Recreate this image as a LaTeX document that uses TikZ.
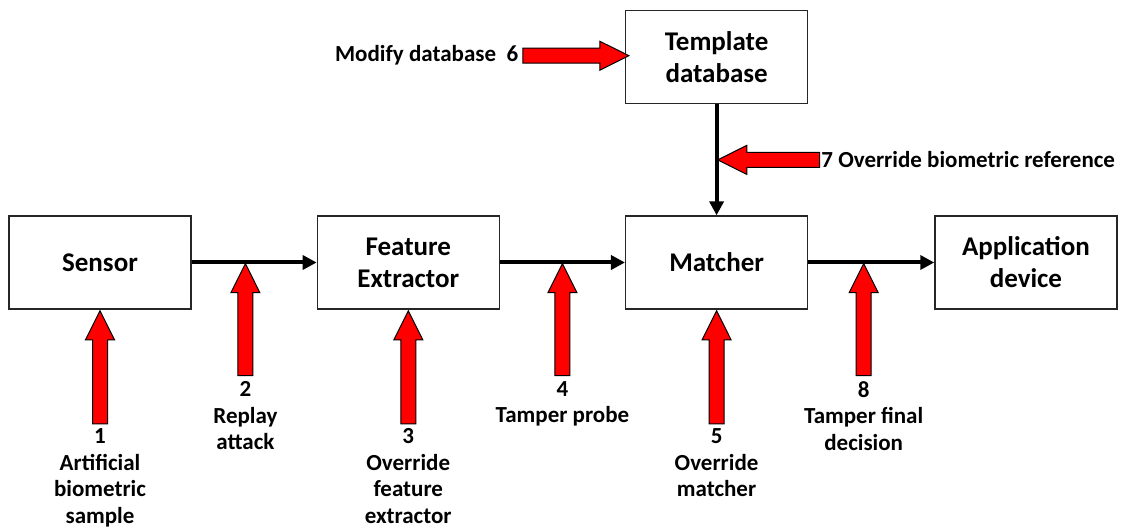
\documentclass[tikz,border=0pt]{standalone}
\usepackage{fontspec}
\setmainfont{Carlito}
\usetikzlibrary{calc, positioning, arrows.meta, shapes.arrows}

\begin{document}
\begin{tikzpicture}[x=1pt, y=-1pt, inner sep=2pt, node distance=125pt,
	block/.style={rectangle, draw=black!85, line width=1.3pt, minimum width=182pt, minimum height=93pt, align=center, font=\fontsize{27}{32}\selectfont\bfseries},
	flow/.style={line width=4pt, -{Triangle[length=14pt, width=14pt]}},
	attack/.style={single arrow, draw=black, line width=1pt, fill=red, inner xsep=0pt, inner ysep=7pt, minimum width=1pt, single arrow head extend=7pt, single arrow tip angle=53, anchor=tip},
	lbl/.style={align=center, font=\fontsize{23}{26.7}\selectfont\bfseries}]
	\useasboundingbox (0,0) rectangle (1140,529);
	\node (sensor) [block] at (100,262.5) {Sensor};
	\node (fe) [block, right= of sensor] {Feature\\Extractor};
	\node (matcher) [block, right= of fe] {Matcher};
	\node (app) [block, right=126pt of matcher] {Application\\device};
	\node (tmpl) [block, above=111pt of matcher] {Template\\database};
	\path[flow] (sensor) edge (fe)
	            (fe) edge (matcher)
	            (matcher) edge (app)
	            (tmpl) edge (matcher);
	\coordinate (p2) at ($(sensor.east)!0.43!(fe.west)$);
	\coordinate (p4) at ($(fe.east)!0.5!(matcher.west)$);
	\coordinate (p8) at ($(matcher.east)!0.44!(app.west)$);
	\coordinate (p7) at ($(tmpl.south)!0.5!(matcher.north)$);
	\node (a1) [attack, minimum height=113pt, rotate=90] at (sensor.south) {};
	\node (a2) [attack, minimum height=112pt, rotate=90] at (p2) {};
	\node (a3) [attack, minimum height=113pt, rotate=90] at (fe.south) {};
	\node (a4) [attack, minimum height=112pt, rotate=90] at (p4) {};
	\node (a5) [attack, minimum height=113pt, rotate=90] at (matcher.south) {};
	\node (a8) [attack, minimum height=112pt, rotate=90] at (p8) {};
	\node (a6) [attack, minimum height=106pt] at ([xshift=5pt, yshift=1.5pt]tmpl.west) {};
	\node (a7) [attack, minimum height=102pt, rotate=180] at (p7) {};
	\node (l1) [lbl, below=2pt of a1.tail] {1\\Artificial\\biometric\\sample};
	\node (l2) [lbl, below=3pt of a2.tail] {2\\Replay\\attack};
	\node (l3) [lbl, below=2pt of a3.tail] {3\\Override\\feature\\extractor};
	\node (l4) [lbl, below=3pt of a4.tail] {4\\Tamper probe};
	\node (l5) [lbl, below=2pt of a5.tail] {5\\Override\\matcher};
	\node (l8) [lbl, below=3pt of a8.tail] {8\\Tamper final\\decision};
	\node (l6) [lbl, left=2pt of a6.tail] {Modify database\ \ 6};
	\node (l7) [lbl, right=-1pt of a7.tail] {7 Override biometric reference};
\end{tikzpicture}
\end{document}
